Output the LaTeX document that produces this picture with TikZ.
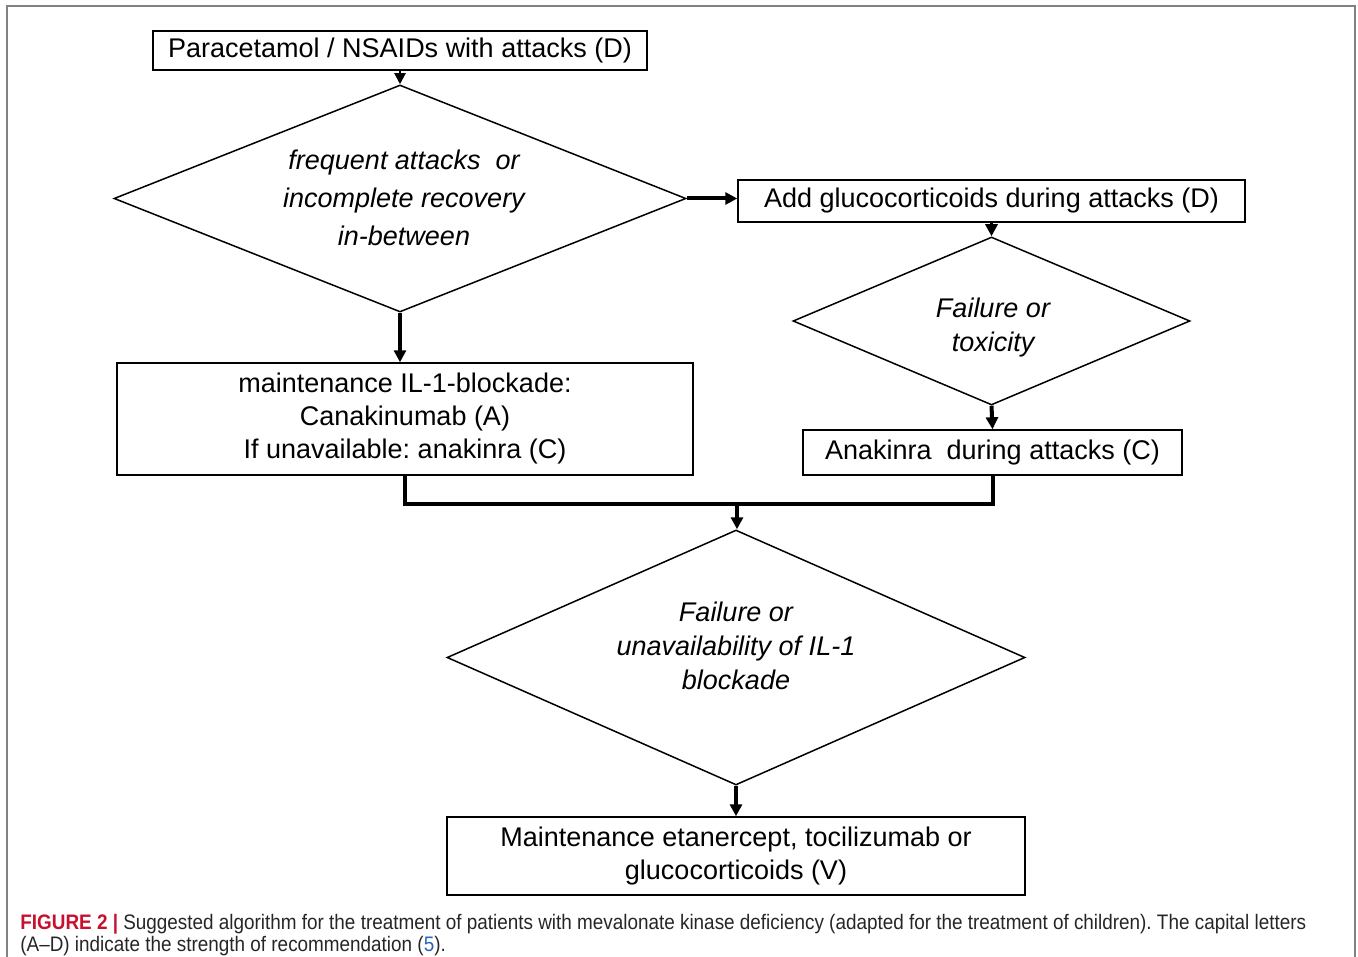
\documentclass[tikz,border=0pt]{standalone}
\usepackage{fontspec}
\setmainfont{Liberation Sans}
\newfontfamily\capfont[FakeStretch=0.9,Ligatures=TeX]{Liberation Sans}
\usetikzlibrary{shapes.geometric,arrows.meta,calc}
\definecolor{figred}{RGB}{200,16,46}
\definecolor{framegray}{RGB}{130,130,130}
\definecolor{linkblue}{RGB}{40,100,180}
\frenchspacing
\begin{document}
\begin{tikzpicture}[x=0.5pt,y=-0.5pt,
  box/.style={draw, line width=0.75pt, rectangle, inner sep=0pt, align=center,
    font=\fontsize{13.5}{16.5}\selectfont},
  dia/.style={draw, line width=0.75pt, diamond, inner sep=0pt},
  dtext/.style={align=center, font=\fontsize{13.5}{17}\selectfont\itshape},
  thickarrow/.style={line width=2pt, -{Triangle[length=6pt,width=6pt]}},
  thinarrow/.style={line width=1pt, -{Triangle[length=5.5pt,width=5.5pt]}},
  joinline/.style={line width=2pt},
  captext/.style={anchor=north west, inner sep=0pt, align=left,
    font=\capfont\fontsize{10.5}{11}\selectfont, text=black!85}
]
\useasboundingbox (0,0) rectangle (1358,957);
% outer frame (open at the bottom)
\draw[framegray, line width=1pt] (7,957) -- (7,6) -- (1355,6) -- (1355,957);

% nodes
\node[box, minimum width=247pt, minimum height=19.5pt] (b1) at (400,50.5)
  {Paracetamol / NSAIDs with attacks (D)};
\node[dia, minimum width=286pt, minimum height=113.5pt] (d1) at (400,198.5) {};
\node[dtext] (d1t) at (404,198) {frequent attacks~ or\\[2pt]incomplete recovery\\[2pt]in-between};

\node[box, minimum width=253.5pt, minimum height=21pt] (b3) at (991.5,201)
  {Add glucocorticoids during attacks (D)};
\node[dia, minimum width=198.5pt, minimum height=84pt] (d2) at (991.5,321) {};
\node[dtext] (d2t) at (993,328) {Failure or\\toxicity};
\node[box, minimum width=189.5pt, minimum height=22.5pt] (b4) at (992.5,452.5)
  {Anakinra~ during attacks (C)};

\node[box, minimum width=288pt, minimum height=56pt] (b2) at (405,419)
  {maintenance IL-1-blockade:\\Canakinumab (A)\\If unavailable: anakinra (C)};

\coordinate (j) at (737,504);
\node[dia, minimum width=289pt, minimum height=127.5pt] (d3) at (736,657.5) {};
\node[dtext] (d3t) at (736,646) {Failure or\\unavailability of IL-1\\blockade};
\node[box, minimum width=289pt, minimum height=39pt] (b5) at (736,856)
  {Maintenance etanercept, tocilizumab or\\glucocorticoids (V)};

% connectors
\draw[thinarrow] (b1.south) -- (b1.south |- d1.north);
\draw[thickarrow] (d1.east) -- (d1.east -| b3.west);
\draw[thickarrow] (d1.south) -- (d1.south |- b2.north);
\draw[thickarrow, line width=1.5pt] (b3.south) -- (d2.north);
\draw[thickarrow] (d2.south) -- (b4.north);
\draw[joinline] (b2.south) |- (j) -| (b4.south);
\draw[thickarrow] (j) -- (j |- d3.north);
\draw[thickarrow] (d3.south) -- (b5.north);

% caption
\node[captext] (cap) at (20,914) {{\color{figred}\bfseries FIGURE 2 |} Suggested algorithm for the treatment of patients with mevalonate kinase deficiency (adapted for the treatment of children). The capital letters\\(A–D) indicate the strength of recommendation ({\color{linkblue}5}).};
\end{tikzpicture}
\end{document}
